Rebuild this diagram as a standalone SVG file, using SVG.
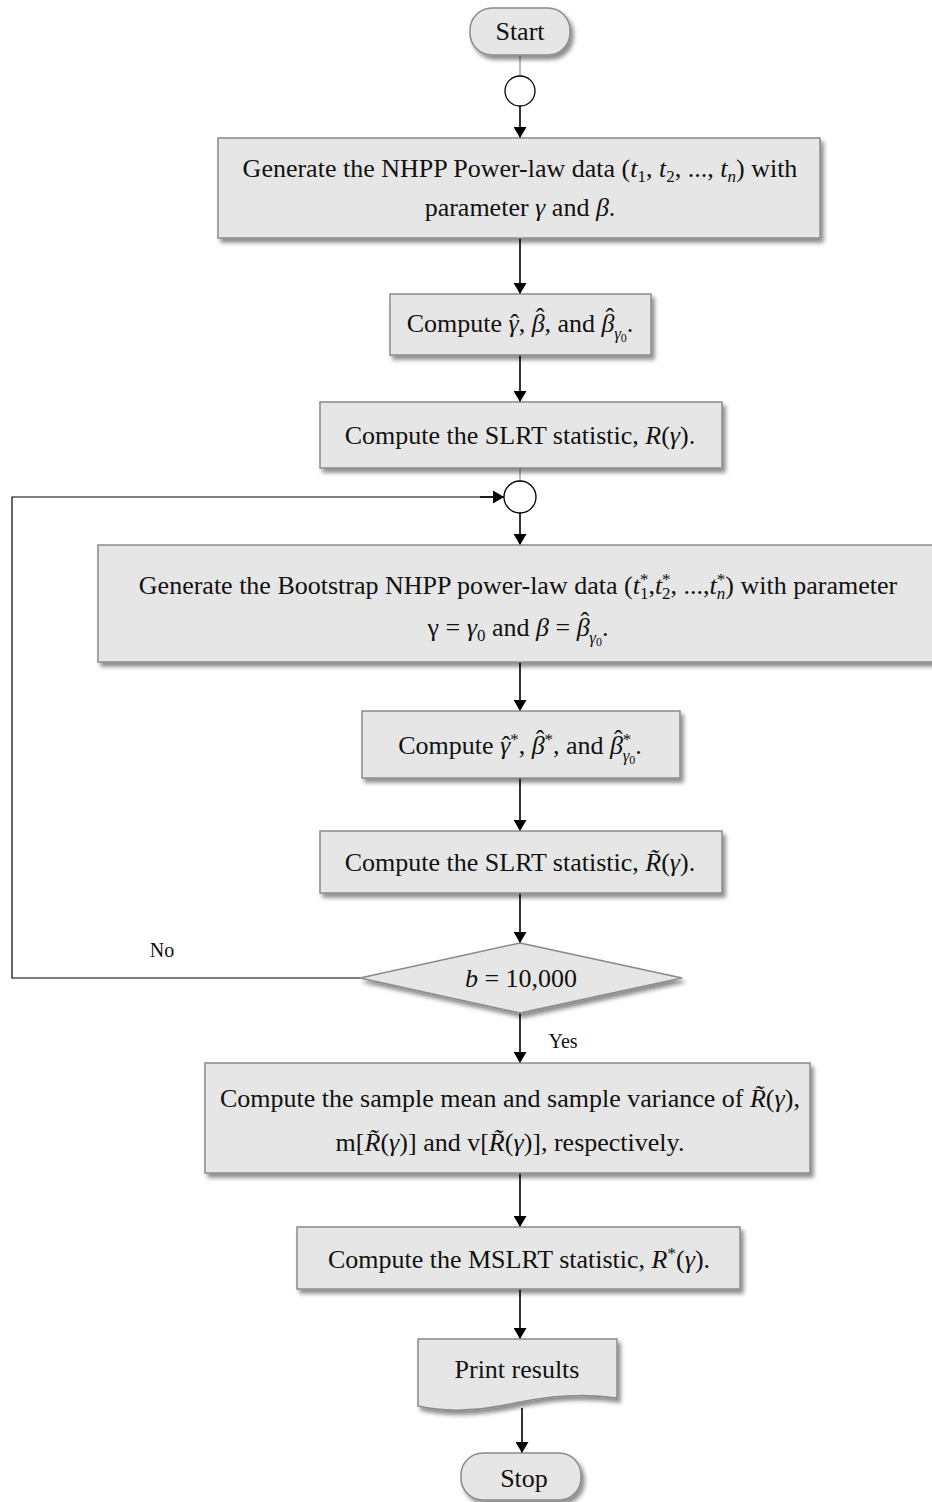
<svg xmlns="http://www.w3.org/2000/svg" width="932" height="1502" viewBox="0 0 932 1502">
<defs>
<filter id="sh" x="-10%" y="-20%" width="130%" height="150%">
<feDropShadow dx="3" dy="4" stdDeviation="2.2" flood-color="#000" flood-opacity="0.45"/>
</filter>
<marker id="ah" viewBox="0 0 11 13" refX="11" refY="6.5" markerWidth="11" markerHeight="13" markerUnits="userSpaceOnUse" orient="auto">
<path d="M0,0 L11,6.5 L0,13 Z" fill="#000"/>
</marker>
</defs>
<style>
.box{fill:#e6e6e6;stroke:#8a8a8a;stroke-width:1.5;filter:url(#sh)}
.circ{fill:#fff;stroke:#000;stroke-width:1.3}
.t{font-family:"Liberation Serif","Times New Roman",serif;font-size:26px;fill:#111}
.m{font-style:italic}
.sb{font-size:17px}
.ss{font-size:12px}
.lb{font-size:20px}
.arr{stroke:#000;stroke-width:1.6;fill:none;marker-end:url(#ah)}
.thin{stroke:#777;stroke-width:1;fill:none}
.loop{stroke:#000;stroke-width:1.2;fill:none}
</style>

<g id="connectors">
<line class="thin" x1="520" y1="55" x2="520" y2="76"/>
<line class="arr" x1="520" y1="106" x2="520" y2="138"/>
<line class="arr" x1="520" y1="238" x2="520" y2="294"/>
<line class="arr" x1="520" y1="355" x2="520" y2="402"/>
<line class="thin" x1="520" y1="468" x2="520" y2="481"/>
<line class="arr" x1="520" y1="513" x2="520" y2="545"/>
<line class="arr" x1="520" y1="662" x2="520" y2="711"/>
<line class="arr" x1="520" y1="778" x2="520" y2="831"/>
<line class="arr" x1="520" y1="893" x2="520" y2="943"/>
<line class="arr" x1="520" y1="1013" x2="520" y2="1063"/>
<line class="arr" x1="520" y1="1173" x2="520" y2="1227"/>
<line class="arr" x1="520" y1="1289" x2="520" y2="1339"/>
<line class="arr" x1="522" y1="1408" x2="522" y2="1453"/>
<polyline class="loop" points="360,978 12,978 12,497 493,497"/>
<line class="arr" x1="480" y1="497" x2="504" y2="497"/>
</g>

<g id="start">
<rect class="box" x="470" y="8" width="100" height="47" rx="22"/>
<text class="t" x="520" y="40" text-anchor="middle">Start</text>
</g>

<g id="connector1">
<circle class="circ" cx="520" cy="91" r="15"/>
</g>

<g id="generate">
<rect class="box" x="218" y="138" width="602" height="100"/>
<text class="t" x="520" y="177" text-anchor="middle">Generate the NHPP Power-law data (<tspan class="m">t</tspan><tspan class="sb" dy="5">1</tspan><tspan dy="-5">, </tspan><tspan class="m">t</tspan><tspan class="sb" dy="5">2</tspan><tspan dy="-5">, ..., </tspan><tspan class="m">t</tspan><tspan class="sb m" dy="5">n</tspan><tspan dy="-5">) with</tspan></text>
<text class="t" x="520" y="216" text-anchor="middle">parameter <tspan class="m">γ</tspan> and <tspan class="m">β</tspan>.</text>
</g>

<g id="compute-mle">
<rect class="box" x="390" y="294" width="261" height="61"/>
<text class="t" x="520" y="332" text-anchor="middle">Compute <tspan class="m">γ</tspan><tspan dx="-8.6">ˆ</tspan>, <tspan class="m">β</tspan><tspan dx="-9" dy="-6">ˆ</tspan><tspan dy="6">, and </tspan><tspan class="m">β</tspan><tspan dx="-9" dy="-6">ˆ</tspan><tspan class="sb m" dy="13">γ</tspan><tspan class="ss" dy="3">0</tspan><tspan dy="-10">.</tspan></text>
</g>

<g id="slrt">
<rect class="box" x="320" y="402" width="402" height="66"/>
<text class="t" x="520" y="444" text-anchor="middle">Compute the SLRT statistic, <tspan class="m">R</tspan>(<tspan class="m">γ</tspan>).</text>
</g>

<g id="connector2">
<circle class="circ" cx="520" cy="497" r="16"/>
</g>

<g id="bootstrap">
<rect class="box" x="98" y="545" width="840" height="117"/>
<text class="t" x="518" y="594" text-anchor="middle">Generate the Bootstrap NHPP power-law data (<tspan class="m">t</tspan><tspan class="sb" dy="-9">*</tspan><tspan class="sb" dx="-8.5" dy="14">1</tspan><tspan dy="-5">,</tspan><tspan class="m">t</tspan><tspan class="sb" dy="-9">*</tspan><tspan class="sb" dx="-8.5" dy="14">2</tspan><tspan dy="-5">, ...,</tspan><tspan class="m">t</tspan><tspan class="sb" dy="-9">*</tspan><tspan class="sb m" dx="-8.5" dy="14">n</tspan><tspan dy="-5">) with parameter</tspan></text>
<text class="t" x="518" y="636" text-anchor="middle">γ = <tspan class="m">γ</tspan><tspan class="sb" dy="5">0</tspan><tspan dy="-5"> and </tspan><tspan class="m">β</tspan> = <tspan class="m">β</tspan><tspan dx="-9" dy="-6">ˆ</tspan><tspan class="sb m" dy="13">γ</tspan><tspan class="ss" dy="3">0</tspan><tspan dy="-10">.</tspan></text>
</g>

<g id="compute-boot-mle">
<rect class="box" x="362" y="711" width="318" height="67"/>
<text class="t" x="520" y="754" text-anchor="middle">Compute <tspan class="m">γ</tspan><tspan dx="-8.6">ˆ</tspan><tspan class="sb" dy="-9">*</tspan><tspan dy="9">, </tspan><tspan class="m">β</tspan><tspan dx="-9" dy="-6">ˆ</tspan><tspan class="sb" dy="-3">*</tspan><tspan dy="9">, and </tspan><tspan class="m">β</tspan><tspan dx="-9" dy="-6">ˆ</tspan><tspan class="sb" dy="-3">*</tspan><tspan class="sb m" dx="-8.5" dy="16">γ</tspan><tspan class="ss" dy="3">0</tspan><tspan dy="-10">.</tspan></text>
</g>

<g id="slrt-boot">
<rect class="box" x="320" y="831" width="402" height="62"/>
<text class="t" x="520" y="871" text-anchor="middle">Compute the SLRT statistic, <tspan class="m">R̃</tspan>(<tspan class="m">γ</tspan>).</text>
</g>

<g id="decision">
<polygon class="box" points="520,943 682,978 520,1013 360,978"/>
<text class="t" x="521" y="987" text-anchor="middle"><tspan class="m">b</tspan> = 10,000</text>
<text class="t lb" x="162" y="957" text-anchor="middle">No</text>
<text class="t lb" x="563" y="1048" text-anchor="middle">Yes</text>
</g>

<g id="sample-stats">
<rect class="box" x="205" y="1063" width="605" height="110"/>
<text class="t" x="510" y="1107" text-anchor="middle">Compute the sample mean and sample variance of <tspan class="m">R̃</tspan>(<tspan class="m">γ</tspan>),</text>
<text class="t" x="510" y="1151" text-anchor="middle">m[<tspan class="m">R̃</tspan>(<tspan class="m">γ</tspan>)] and  v[<tspan class="m">R̃</tspan>(<tspan class="m">γ</tspan>)], respectively.</text>
</g>

<g id="mslrt">
<rect class="box" x="297" y="1227" width="443" height="62"/>
<text class="t" x="519" y="1268" text-anchor="middle">Compute the MSLRT statistic, <tspan class="m">R</tspan><tspan class="sb" dy="-9">*</tspan><tspan dy="9">(</tspan><tspan class="m">γ</tspan>).</text>
</g>

<g id="print">
<path class="box" d="M418,1339 H617 V1398 C585,1393 548,1396 520,1402 C490,1409 452,1414 418,1406 Z"/>
<text class="t" x="517" y="1378" text-anchor="middle">Print results</text>
</g>

<g id="stop">
<rect class="box" x="461" y="1453" width="120" height="47" rx="22"/>
<text class="t" x="524" y="1487" text-anchor="middle">Stop</text>
</g>
</svg>
